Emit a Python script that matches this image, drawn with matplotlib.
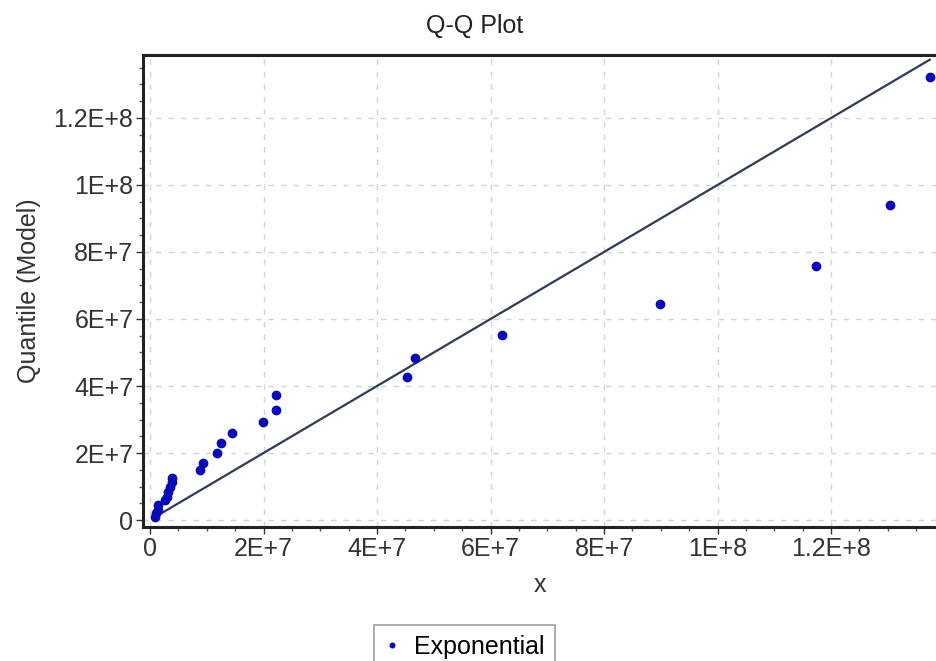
import numpy as np
import matplotlib
matplotlib.use("Agg")
import matplotlib.pyplot as plt
from matplotlib.ticker import FuncFormatter, MultipleLocator

plt.rcParams["font.family"] = ["Liberation Sans", "DejaVu Sans"]

x_data = [0.88e6, 1.06e6, 1.41e6, 1.41e6, 2.64e6, 3.0e6, 3.17e6, 3.52e6, 3.88e6,
          3.88e6, 8.8e6, 9.3e6, 1.18e7, 1.25e7, 1.44e7, 1.99e7, 2.22e7, 2.22e7,
          4.53e7, 4.67e7, 6.2e7, 8.99e7, 1.174e8, 1.304e8, 1.374e8]
y_model = [0.9e6, 2.09e6, 2.99e6, 4.48e6, 5.97e6, 6.87e6, 8.36e6, 9.85e6, 1.13e7,
           1.25e7, 1.49e7, 1.7e7, 2.0e7, 2.3e7, 2.6e7, 2.93e7, 3.28e7, 3.73e7,
           4.27e7, 4.84e7, 5.52e7, 6.45e7, 7.58e7, 9.4e7, 1.322e8]

# reference line y = x
line_x = [1.5e6, 1.374e8]
line_y = [1.5e6, 1.374e8]

tick_labels = {0: "0", 2e7: "2E+7", 4e7: "4E+7", 6e7: "6E+7", 8e7: "8E+7",
               1e8: "1E+8", 1.2e8: "1.2E+8"}


def fmt(v, pos):
    for k, s in tick_labels.items():
        if abs(v - k) < 1:
            return s
    return ""


fig = plt.figure(figsize=(9.36, 6.61), dpi=100)
ax = fig.add_axes([0.1528, 0.2027, 0.8472, 0.7141])

ax.plot(line_x, line_y, color="#2f3b55", linewidth=1.6, zorder=2)
ax.plot(x_data, y_model, linestyle="none", marker="o", markersize=6,
        color="#0a0ab4", label="Exponential", zorder=3)

ax.set_xlim(-1.23e6, 1.385e8)
ax.set_ylim(-2.09e6, 1.388e8)

for a in (ax.xaxis, ax.yaxis):
    a.set_major_locator(MultipleLocator(2e7))
    a.set_minor_locator(MultipleLocator(5e6))
    a.set_major_formatter(FuncFormatter(fmt))

ax.grid(True, which="major", linestyle=(0, (4, 5)), color="#d4d4d4", linewidth=1)
ax.tick_params(which="major", length=5, width=1, labelsize=18, colors="#333333",
               pad=2)
ax.tick_params(which="minor", length=3, width=1, colors="#555555")

for side in ("left", "bottom", "top"):
    ax.spines[side].set_linewidth(2.2)
    ax.spines[side].set_color("#222222")
ax.spines["right"].set_visible(False)

ax.set_xlabel("x", fontsize=18, color="#333333", labelpad=9)
ax.set_ylabel("Quantile (Model)", fontsize=18, color="#333333", labelpad=9)
fig.text(0.507, 0.960, "Q-Q Plot", ha="center", va="center", fontsize=18,
         color="#222222")

leg = fig.legend(loc="upper center", bbox_to_anchor=(0.496, 0.055),
                 fontsize=18, frameon=True, fancybox=False, handlelength=0.6,
                 markerscale=0.55, borderpad=0.4, handletextpad=0.6,
                 borderaxespad=0)
leg.get_frame().set_edgecolor("#888888")
leg.get_frame().set_linewidth(1.2)

fig.savefig("out.png", dpi=100)
